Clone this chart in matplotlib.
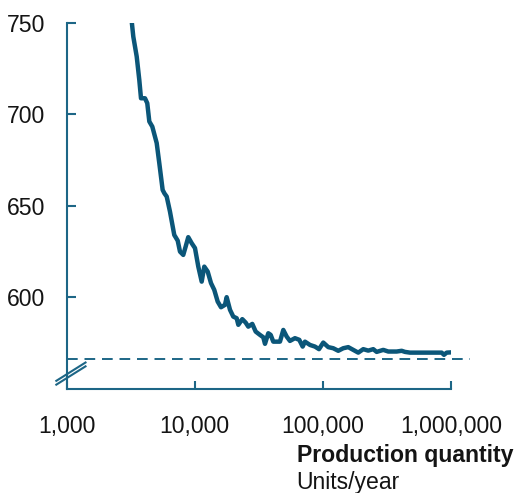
import matplotlib
matplotlib.use("Agg")
import matplotlib.pyplot as plt
from matplotlib.ticker import FixedLocator, FuncFormatter

plt.rcParams['font.family'] = ['Liberation Sans', 'DejaVu Sans']

# Unit cost vs. annual production quantity
quantity = [
    3215, 3311, 3520, 3688, 3802, 4085, 4256, 4416, 4660, 5042,
    5284, 5612, 5797, 6035, 6400, 6914, 7355, 7665, 8128, 8490,
    8892, 9460, 10037, 10650, 11320, 11860, 12610, 13380, 14190, 15090,
    16020, 17200, 17740, 18830, 19970, 21230, 21870, 23490, 24960, 26160,
    28110, 29880, 32260, 34250, 35320, 37480, 39130, 41000, 46240, 49090,
    52140, 55310, 60530, 65420, 69520, 72470, 79300, 86730, 93250, 100700,
    110200, 120500, 131800, 144200, 157800, 172600, 188800, 206600, 226000, 247300,
    262800, 296100, 323900, 376600, 412100, 437400, 478700, 608000, 846000, 881900,
    925400, 1031000,
]
unit_cost = [
    751.0, 742.4, 731.5, 718.7, 708.7, 708.7, 706.0, 696.0, 693.2, 684.2,
    673.2, 658.6, 656.7, 655.0, 646.8, 634.0, 630.9, 624.9, 623.1, 627.7,
    632.8, 629.5, 626.8, 616.7, 608.5, 616.7, 614.0, 607.7, 604.0, 597.6,
    594.5, 595.8, 600.0, 593.1, 589.4, 588.5, 584.9, 588.0, 586.1, 583.9,
    585.4, 581.2, 579.4, 578.1, 574.5, 580.3, 579.4, 575.7, 575.7, 582.1,
    578.5, 576.1, 577.6, 576.7, 573.0, 575.7, 573.9, 573.0, 571.6, 575.2,
    572.7, 572.1, 570.7, 572.1, 572.7, 571.2, 569.7, 571.6, 570.8, 571.6,
    570.1, 571.2, 570.3, 570.3, 570.7, 570.1, 569.7, 569.7, 569.7, 568.5,
    569.7, 569.9,
]
asymptote = 566.0

y_ticks = [600, 650, 700, 750]
x_ticks = [1000, 10000, 100000, 1000000]

blue = "#0b5679"
axis_blue = "#1d6686"
text_color = "#141414"

fig = plt.figure(figsize=(5.17, 4.93), dpi=100)
ax = fig.add_axes([0.129, 0.2116, 0.7433, 0.7424])

ax.plot(quantity, unit_cost, color=blue, lw=3.2, solid_joinstyle='round',
        solid_capstyle='round', zorder=3)
ax.axhline(asymptote, xmin=0, xmax=1.05, color=axis_blue, lw=1.4,
           dashes=(5.5, 3.5), clip_on=False, zorder=2)

ax.set_xscale('log')
ax.set_xlim(1000, 1000000)
ax.set_ylim(550, 750)

ax.xaxis.set_major_locator(FixedLocator(x_ticks))
ax.xaxis.set_minor_locator(FixedLocator([]))
ax.xaxis.set_major_formatter(FuncFormatter(lambda v, p: f"{int(round(v)):,}"))
ax.yaxis.set_major_locator(FixedLocator(y_ticks))

for side in ('top', 'right'):
    ax.spines[side].set_visible(False)
for side in ('left', 'bottom'):
    ax.spines[side].set_color(axis_blue)
    ax.spines[side].set_linewidth(1.5)

ax.tick_params(axis='both', direction='in', colors=axis_blue, width=1.5,
               labelcolor=text_color, labelsize=16.6)
ax.tick_params(axis='y', length=6.5, pad=15.5)
ax.tick_params(axis='x', length=6, pad=19)

# axis-break marks on the value axis
for dy in (0.0, 0.0105):
    ax.plot([-0.027, 0.049], [0.0215 - dy, 0.0715 - dy],
            transform=ax.transAxes, color=axis_blue, lw=1.5, clip_on=False)

fig.text(296.7 / 517, 1 - 462.3 / 493, "Production quantity", fontsize=16.6,
         fontweight='bold', color=text_color, ha='left', va='baseline')
fig.text(296.7 / 517, 1 - 489 / 493, "Units/year", fontsize=16.6,
         color=text_color, ha='left', va='baseline')

fig.savefig("out.png", dpi=100)
